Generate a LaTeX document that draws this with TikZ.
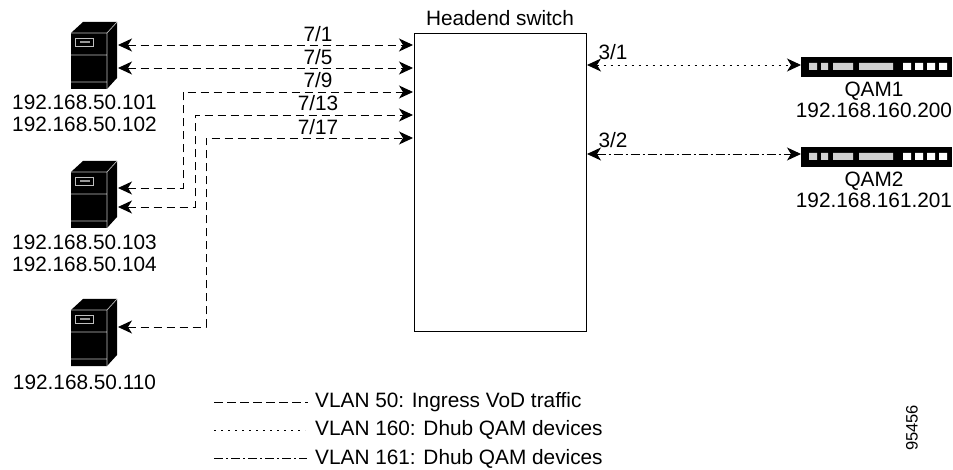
\documentclass[tikz,border=0pt]{standalone}
\usepackage{fontspec}
\setmainfont{Liberation Sans}
\usetikzlibrary{arrows.meta}
\tikzset{
	lbl/.style={inner sep=0pt,font=\fontsize{20.8}{21.5}\selectfont},
	vlan/.style={line width=0.9pt,{Stealth[length=14pt,width=13pt,inset=4pt]}-{Stealth[length=14pt,width=13pt,inset=4pt]}},
	ingress/.style={dash pattern=on 8.5pt off 4.5pt},
	qamdots/.style={dash pattern=on 2pt off 5pt},
	qamdash/.style={dash pattern=on 9pt off 3pt on 2pt off 3pt},
	led/.style={fill=black!18,draw=none},
	ledw/.style={fill=white,draw=none},
}
% server cabinet, #2 is the top edge of its front
\newcommand{\serverbox}[2]{
	\begin{scope}[yshift=-#2pt]
		\node[minimum width=46pt,minimum height=68pt,inner sep=0pt] (#1) at (94,23) {};
		\fill[black] (71,0) -- (83,-11) -- (117,-11) -- (117,45) -- (107,56) -- (71,56) -- cycle;
		\draw[black!25,line width=0.7pt] (71,0) -- (107,0) -- (117,-11) (107,0) -- (107,56) (71,22) -- (107,22) (71,49) -- (107,49);
		\draw[black!25,line width=0.7pt] (75,5) rectangle (93,13);
		\fill[black!40] (80,8) rectangle (90,10);
	\end{scope}
}
% qam box, #2 is its top edge
\newcommand{\qambox}[2]{
	\begin{scope}[yshift=-#2pt]
		\node[fill=black,minimum width=151pt,minimum height=20pt,inner sep=0pt] (#1) at (876.5,10) {};
		\fill[led] (809,6) rectangle (817,13) (821,6) rectangle (828,13) (833,6) rectangle (853,13) (859,6) rectangle (893,13);
		\fill[ledw] (903,6) rectangle (911,13) (915,6) rectangle (923,13) (927,6) rectangle (935,13) (939,6) rectangle (947,13);
	\end{scope}
}
\begin{document}
\begin{tikzpicture}[x=1pt,y=-1pt]
		\useasboundingbox (0,0) rectangle (953,470);
		% switch
		\node[draw,line width=0.9pt,minimum width=172pt,minimum height=298pt,inner sep=0pt] (Switch) at (500,182) {};
		\node[lbl] (SwitchName) at (500,18) {Headend switch};
		
		% servers
		\serverbox{ServerA}{33}
		\serverbox{ServerB}{172}
		\serverbox{ServerC}{310}
		\node[lbl,align=center] (ServerAName) at (84.5,113.5) {192.168.50.101\\192.168.50.102};
		\node[lbl,align=center] (ServerBName) at (84.5,253.5) {192.168.50.103\\192.168.50.104};
		\node[lbl] (ServerCName) at (84.5,382.5) {192.168.50.110};
		
		% qam devices
		\qambox{QamA}{57}
		\qambox{QamB}{147}
		\node[lbl,align=center] (QamAName) at (874,100) {QAM1\\192.168.160.200};
		\node[lbl,align=center] (QamBName) at (874,190) {QAM2\\192.168.161.201};
		
		% port ends
		\coordinate (A1) at (118,45);
		\coordinate (A2) at (118,68);
		\coordinate (B1) at (118,188);
		\coordinate (B2) at (118,207);
		\coordinate (C1) at (118,327);
		\coordinate (P1) at (413,45);
		\coordinate (P5) at (413,68);
		\coordinate (P9) at (413,92);
		\coordinate (P13) at (413,115);
		\coordinate (P17) at (413,138);
		\coordinate (E9) at (183,92);
		\coordinate (E13) at (195,115);
		\coordinate (E17) at (206,138);
		\coordinate (R1) at (587,65);
		\coordinate (R2) at (587,154);
		\coordinate (Q1) at (801,65);
		\coordinate (Q2) at (801,154);
		
		\draw[vlan,ingress] (A1) -- (P1);
		\draw[vlan,ingress] (A2) -- (P5);
		\draw[vlan,ingress] (B1) -| (E9) -- (P9);
		\draw[vlan,ingress] (B2) -| (E13) -- (P13);
		\draw[vlan,ingress] (C1) -| (E17) -- (P17);
		\draw[vlan,qamdots] (R1) -- (Q1);
		\draw[vlan,qamdash] (R2) -- (Q2);
		
		\node[lbl] (Port1) at (318,34) {7/1};
		\node[lbl] (Port5) at (318,57) {7/5};
		\node[lbl] (Port9) at (318,80) {7/9};
		\node[lbl] (Port13) at (318,103) {7/13};
		\node[lbl] (Port17) at (318,127) {7/17};
		\node[lbl] (Port31) at (613,52) {3/1};
		\node[lbl] (Port32) at (613,140) {3/2};
		
		% legend
		\node[lbl,anchor=west] (KeyA) at (315,402) {VLAN 50: Ingress VoD traffic};
		\node[lbl,anchor=west] (KeyB) at (315,430) {VLAN 160: Dhub QAM devices};
		\node[lbl,anchor=west] (KeyC) at (315,459) {VLAN 161: Dhub QAM devices};
		\coordinate (KeyAs) at (214,402);
		\coordinate (KeyBs) at (214,430);
		\coordinate (KeyCs) at (214,458);
		\coordinate (KeyAe) at (308,402);
		\coordinate (KeyBe) at (305,430);
		\coordinate (KeyCe) at (307,458);
		\draw[line width=0.9pt,ingress] (KeyAs) -- (KeyAe);
		\draw[line width=0.9pt,qamdots] (KeyBs) -- (KeyBe);
		\draw[line width=0.9pt,qamdash] (KeyCs) -- (KeyCe);
		
		\node[lbl,font=\fontsize{16.5}{18}\selectfont,rotate=90] (FigId) at (912,428) {95456};
		
		\end{tikzpicture}
\end{document}
